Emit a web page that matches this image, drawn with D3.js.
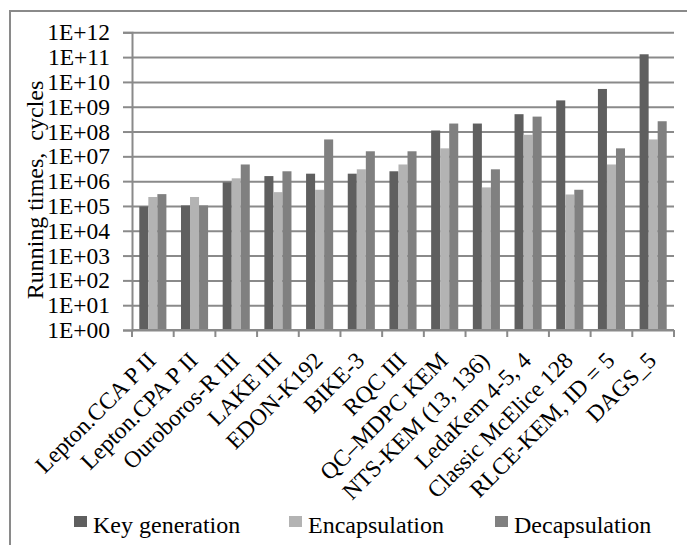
<!DOCTYPE html>
<html>
<head>
<meta charset="utf-8">
<script src="https://cdn.jsdelivr.net/npm/d3@7"></script>
<style>
  body { margin: 0; background: #fff; }
  svg { display: block; }
  svg text { font-family: "Liberation Serif", "Times New Roman", serif; }
</style>
</head>
<body>
<div id="chart"></div>
<script>
// Data
const categories = ["Lepton.CCA P II", "Lepton.CPA P II", "Ouroboros-R III", "LAKE III", "EDON-K192",
  "BIKE-3", "RQC III", "QC\u2013MDPC KEM", "NTS-KEM (13, 136)", "LedaKem 4-5, 4",
  "Classic McElice 128", "RLCE-KEM, ID = 5", "DAGS_5"];
const seriesNames = ["Key generation", "Encapsulation", "Decapsulation"];
const keyGen = [9.5e4, 1.05e5, 9e5, 1.6e6, 2e6, 2e6, 2.5e6, 1.1e8, 2.1e8, 5e8, 1.8e9, 5.2e9, 1.3e11];
const encaps = [2.3e5, 2.3e5, 1.3e6, 3.6e5, 4.5e5, 3e6, 4.7e6, 2.1e7, 5.6e5, 7.4e7, 2.9e5, 4.7e6, 4.8e7];
const decaps = [3e5, 1.05e5, 4.7e6, 2.5e6, 4.8e7, 1.6e7, 1.6e7, 2.1e8, 3e6, 4e8, 4.5e5, 2.1e7, 2.6e8];
const yTickValues = [1, 1e1, 1e2, 1e3, 1e4, 1e5, 1e6, 1e7, 1e8, 1e9, 1e10, 1e11, 1e12];
const yTickLabels = ["1E+00", "1E+01", "1E+02", "1E+03", "1E+04", "1E+05", "1E+06",
  "1E+07", "1E+08", "1E+09", "1E+10", "1E+11", "1E+12"];
const colors = ["#5f5f5f", "#b3b3b3", "#808080"];

const W = 687, H = 545;
const margin = {top: 32.3, right: 13, bottom: 215, left: 132};
const plotW = W - margin.left - margin.right;
const plotH = H - margin.top - margin.bottom;
const font = "Liberation Serif, Times New Roman, serif";
const gridColor = "#8a8a8a";

const svg = d3.select("#chart").append("svg")
  .attr("width", W)
  .attr("height", H)
  .attr("font-family", font);

// Outer frame (only the left and top edges are visible)
svg.append("path")
  .attr("d", `M10,${H + 5} L10,11 L${W + 5},11`)
  .attr("fill", "none")
  .attr("stroke", gridColor)
  .attr("stroke-width", 2);

const g = svg.append("g")
  .attr("transform", `translate(${margin.left},${margin.top})`);

// Scales
const x0 = d3.scaleBand()
  .domain(categories)
  .range([0, plotW])
  .paddingInner(0.35)
  .paddingOuter(0.175);
const x1 = d3.scaleBand()
  .domain(seriesNames)
  .range([0, x0.bandwidth()]);
const y = d3.scaleLog()
  .domain([1, 1e12])
  .range([plotH, 0]);

// Gridlines
g.append("g")
  .call(d3.axisRight(y).tickValues(yTickValues).tickSize(plotW).tickFormat(""))
  .call(a => a.select(".domain").remove())
  .selectAll("line")
  .attr("stroke", gridColor)
  .attr("stroke-width", 2);

// Y axis
const yAxis = g.append("g")
  .call(d3.axisLeft(y).tickValues(yTickValues).tickSize(9).tickPadding(13)
    .tickFormat((d, i) => yTickLabels[i]))
  .attr("font-family", font)
  .attr("font-size", 23.5);
yAxis.select(".domain").attr("stroke", gridColor).attr("stroke-width", 2);
yAxis.selectAll("line").attr("stroke", gridColor).attr("stroke-width", 2);
yAxis.selectAll("text").attr("fill", "#000");

// Bars
const rows = categories.map((c, i) => ({cat: c, vals: [keyGen[i], encaps[i], decaps[i]]}));
g.append("g").selectAll("g")
  .data(rows)
  .join("g")
  .attr("transform", d => `translate(${x0(d.cat)},0)`)
  .selectAll("rect")
  .data(d => d.vals.map((v, j) => ({name: seriesNames[j], v: v, j: j})))
  .join("rect")
  .attr("x", d => x1(d.name))
  .attr("y", d => y(d.v))
  .attr("width", x1.bandwidth())
  .attr("height", d => y(1) - y(d.v))
  .attr("fill", d => colors[d.j]);

// X axis line and ticks at category boundaries
const step = x0.step();
const xAxis = g.append("g").attr("transform", `translate(0,${plotH})`);
xAxis.append("line")
  .attr("x1", 0).attr("x2", plotW)
  .attr("stroke", gridColor).attr("stroke-width", 2);
xAxis.selectAll("line.tick")
  .data(d3.range(categories.length + 1))
  .join("line")
  .attr("class", "tick")
  .attr("x1", i => i * step).attr("x2", i => i * step)
  .attr("y1", 0).attr("y2", 7)
  .attr("stroke", gridColor).attr("stroke-width", 2);

// Rotated category labels
xAxis.selectAll("text")
  .data(categories)
  .join("text")
  .attr("transform", d => `translate(${x0(d) + x0.bandwidth() / 2 + 4.5},32) rotate(-45)`)
  .attr("text-anchor", "end")
  .attr("font-size", 23.5)
  .text(d => d);

// Y axis title
svg.append("text")
  .attr("transform", "translate(43,190) rotate(-90)")
  .attr("text-anchor", "middle")
  .attr("font-size", 24)
  .style("white-space", "pre")
  .text("Running times,  cycles");

// Legend
const legendX = [74, 289, 495];
const legend = svg.append("g").selectAll("g")
  .data(seriesNames)
  .join("g")
  .attr("transform", (d, i) => `translate(${legendX[i]},516)`);
legend.append("rect")
  .attr("width", 13).attr("height", 11)
  .attr("fill", (d, i) => colors[i]);
legend.append("text")
  .attr("x", 19).attr("y", 17)
  .attr("font-size", 24)
  .text(d => d);
</script>
</body>
</html>
